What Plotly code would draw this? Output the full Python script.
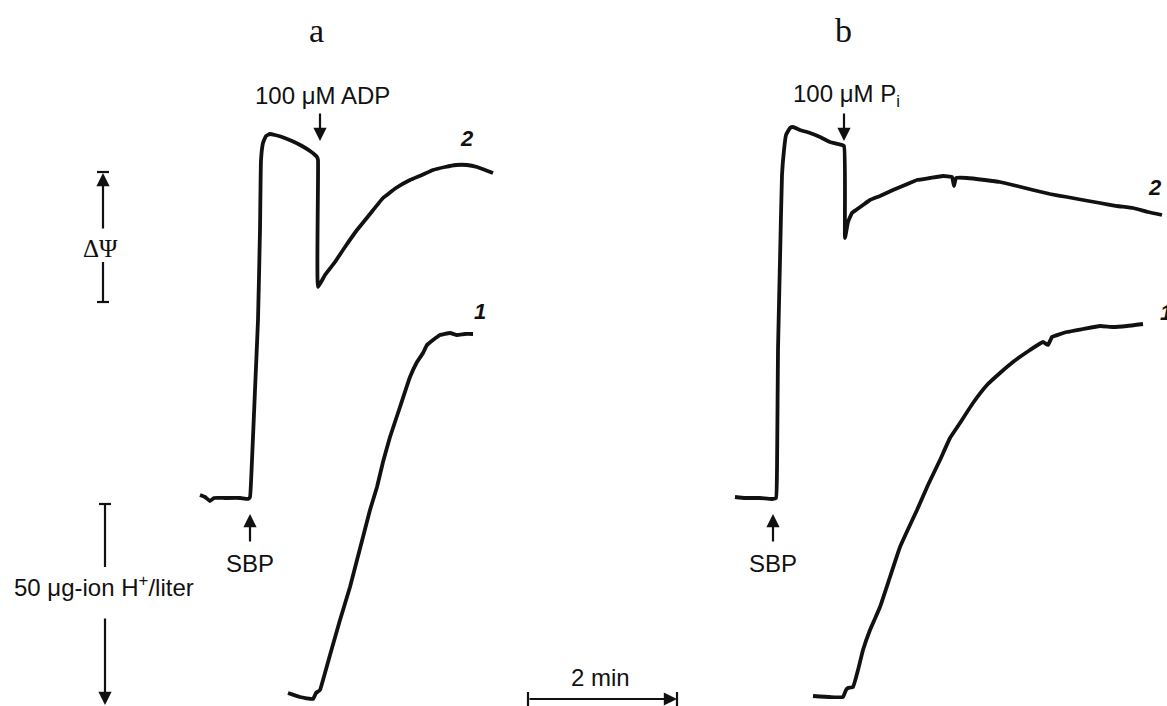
import plotly.graph_objects as go

# ---- data (plot units: x to the right, y downwards) ----
# Panel a, trace 2 (membrane potential, ΔΨ)
a2_x = [200, 205, 210, 214, 225, 240, 248, 250, 252, 255, 258, 260, 261, 263, 266, 270, 275, 282, 292,
        302, 310, 317, 318, 318, 325, 335, 345, 357, 370, 383, 396, 410, 422, 433, 445, 456, 467, 477, 485, 493]
a2_y = [495, 497, 501, 498, 498, 498, 499, 497, 460, 390, 320, 230, 160, 143, 136, 134, 135, 137, 141,
        146, 151, 157, 160, 287, 275, 262, 247, 230, 214, 198, 188, 180, 175, 170, 167, 165, 165, 167, 170, 173]

# Panel a, trace 1 (pH / H+)
a1_x = [288, 300, 313, 316, 320, 323, 330, 340, 350, 357, 363, 370, 377, 383, 390, 400, 410, 417, 423,
        427, 433, 440, 450, 457, 465, 473]
a1_y = [693, 697, 699, 693, 690, 680, 655, 620, 587, 560, 537, 510, 487, 462, 437, 407, 377, 362, 353,
        345, 340, 335, 333, 335, 334, 334]

# Panel b, trace 2 (ΔΨ)
b2_x = [735, 745, 760, 772, 776, 777, 778, 780, 782, 784, 786, 790, 793, 800, 810, 820, 830, 838, 844,
        845, 848, 852, 856, 863, 870, 880, 893, 905, 917, 930, 943, 952, 954, 956, 967, 985, 1000, 1017,
        1033, 1050, 1067, 1083, 1100, 1117, 1133, 1148, 1162]
b2_y = [497, 498, 498, 499, 498, 470, 350, 260, 175, 150, 135, 128, 127, 130, 133, 137, 142, 144, 146,
        238, 222, 213, 210, 205, 200, 196, 190, 185, 180, 178, 176, 177, 186, 178, 178, 180, 182, 186,
        190, 194, 197, 200, 203, 206, 208, 212, 215]

# Panel b, trace 1 (pH / H+)
b1_x = [813, 830, 843, 846, 848, 853, 858, 863, 870, 880, 890, 900, 910, 917, 928, 940, 950, 960, 973,
        987, 1000, 1013, 1030, 1043, 1048, 1052, 1067, 1083, 1100, 1113, 1127, 1143]
b1_y = [696, 697, 697, 690, 688, 687, 670, 650, 630, 607, 577, 547, 525, 510, 485, 460, 438, 423, 403,
        385, 373, 362, 350, 342, 345, 337, 332, 329, 326, 327, 326, 324]

traces = [(a2_x, a2_y), (a1_x, a1_y), (b2_x, b2_y), (b1_x, b1_y)]

fig = go.Figure()
for xs, ys in traces:
    fig.add_trace(go.Scatter(x=xs, y=ys, mode="lines",
                             line=dict(color="#111111", width=3.8, shape="spline", smoothing=0.3),
                             hoverinfo="skip", showlegend=False))

SANS = "Liberation Sans, Arial, sans-serif"
SERIF = "Liberation Serif, Times New Roman, serif"
ann = []


def text(x, y, s, size=24, family=SANS, **kw):
    ann.append(dict(x=x, y=y, xref="x", yref="y", text=s, showarrow=False,
                    font=dict(size=size, family=family, color="#111111"), **kw))


def arrow(x0, y0, x1, y1):
    # arrow pointing from (x0,y0) to (x1,y1)
    ann.append(dict(x=x1, y=y1, ax=x0, ay=y0, xref="x", yref="y", axref="x", ayref="y",
                    text="", showarrow=True, arrowhead=2, arrowsize=1.2, arrowwidth=2.2,
                    arrowcolor="#111111", standoff=0, startstandoff=0))


# panel titles
text(316, 30, "a", size=34, family=SERIF)
text(843, 30, "b", size=34, family=SERIF)

# additions
text(322, 95, "100 μM ADP")
arrow(320, 112, 320, 141)
text(846, 95, "100 μM P<sub>i</sub>")
arrow(844, 112, 844, 141)

text(250, 563, "SBP")
arrow(250, 543, 250, 514)
text(773, 563, "SBP")
arrow(773, 543, 773, 514)

# trace labels
text(467, 138, "<b><i>2</i></b>", size=22)
text(480, 311, "<b><i>1</i></b>", size=22)
text(1155, 187, "<b><i>2</i></b>", size=22)
text(1166, 312, "<b><i>1</i></b>", size=22)

# scale bars
text(100, 248, "ΔΨ", size=25, family=SERIF)
arrow(103, 230, 103, 173)
text(104, 586, "50 μg-ion H<sup>+</sup>/liter", size=24)
arrow(105, 617, 105, 705)
text(600, 677, "2 min", size=24)
arrow(528, 699, 677, 699)

shapes = []


def seg(x0, y0, x1, y1, w=2.2):
    shapes.append(dict(type="line", xref="x", yref="y", x0=x0, y0=y0, x1=x1, y1=y1,
                       line=dict(color="#111111", width=w)))


seg(97, 172, 109, 172)
seg(103, 262, 103, 302)
seg(97, 302, 109, 302)
seg(99, 504, 111, 504)
seg(105, 504, 105, 567)
seg(528, 692, 528, 706)
seg(677, 692, 677, 706)

fig.update_layout(
    width=1167, height=706,
    margin=dict(l=0, r=0, t=0, b=0),
    paper_bgcolor="white", plot_bgcolor="white",
    xaxis=dict(range=[0, 1167], visible=False, fixedrange=True),
    yaxis=dict(range=[706, 0], visible=False, fixedrange=True),
    annotations=ann, shapes=shapes,
)

fig.write_html("out.html",
               config={"displayModeBar": False},
               post_script="document.body.style.margin='0px';"
                           "document.body.style.overflow='hidden';")
